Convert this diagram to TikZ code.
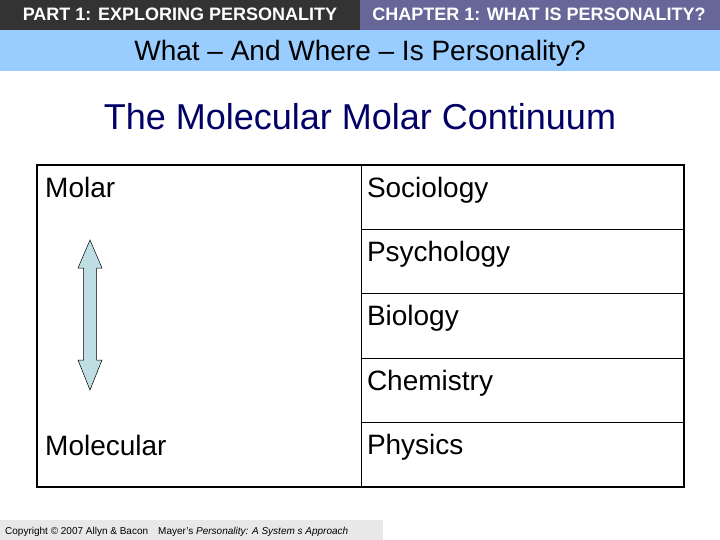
\documentclass[tikz,border=0pt]{standalone}
\usepackage{fontspec}
\setmainfont{Liberation Sans}
\usetikzlibrary{
  positioning,
}
\definecolor{bardark}{RGB}{51,51,51}
\definecolor{barpurple}{RGB}{102,102,153}
\definecolor{bandblue}{RGB}{153,204,255}
\definecolor{titleblue}{RGB}{0,0,102}
\definecolor{arrowfill}{RGB}{190,222,228}
\definecolor{footgray}{RGB}{232,232,232}
\tikzstyle{banner} = [
text=white,
font=\fontsize{18}{20}\selectfont\bfseries,
anchor=base
]
\tikzstyle{field} = [
rectangle,
draw,
line width=1pt,
outer sep=0pt,
inner xsep=6pt,
inner ysep=0pt,
minimum width=323pt,
minimum height=64.4pt,
text width=311pt,
text height=32pt,
text depth=32.4pt,
align=left,
font=\fontsize{28}{30}\selectfont
]
\tikzstyle{level} = [
anchor=base west,
inner sep=0pt,
font=\fontsize{28}{30}\selectfont
]

\begin{document}
\begin{tikzpicture}[x=1pt, y=-1pt]
  \useasboundingbox (0,0) rectangle (720,540);
  % Bars
  \fill [bardark] (0,0) rectangle (360,30);
  \fill [barpurple] (360,0) rectangle (720,30);
  \fill [bandblue] (0,30) rectangle (720,71);
  \fill [footgray] (0,520) rectangle (383,540);

  % Place nodes
  \node [banner] (part) at (180,21) {PART 1: EXPLORING PERSONALITY};
  \node [banner] (chapter) at (539,21) {CHAPTER 1: WHAT IS PERSONALITY?};
  \node [anchor=base, font=\fontsize{28}{30}\selectfont] (where) at (360,61)
    {What -- And Where -- Is Personality?};
  \node [anchor=base, text=titleblue, font=\fontsize{36}{40}\selectfont] (title) at (360,130)
    {The Molecular Molar Continuum};

  \node [field] (soc) at (522.5,197.2) {Sociology};
  \node [field, below=0pt of soc] (psy) {Psychology};
  \node [field, below=0pt of psy] (bio) {Biology};
  \node [field, below=0pt of bio] (chem) {Chemistry};
  \node [field, below=0pt of chem] (phys) {Physics};

  \node [draw, line width=1pt, outer sep=0pt, minimum width=324pt, minimum height=322pt]
    (scale) at (199,326) {};
  \node [level] (molar) at (45,197) {Molar};
  \node [level] (molecular) at (45,455) {Molecular};

  % Outer frame
  \draw [line width=2.5pt] (scale.north west) rectangle (phys.south east);

  % Double arrow
  \filldraw [fill=arrowfill, draw=black, line width=0.5pt]
    (90,240) -- (102,268) -- (96.5,268) -- (96.5,360) -- (102,360) -- (90,390)
    -- (78,360) -- (83.5,360) -- (83.5,268) -- (78,268) -- cycle;

  % Footer
  \node [anchor=base west, inner sep=0pt, font=\fontsize{10}{12}\selectfont] (copy) at (5,534)
    {Copyright \textcopyright{} 2007 Allyn \& Bacon\quad Mayer's \textit{Personality: A System s Approach}};
\end{tikzpicture}
\end{document}
